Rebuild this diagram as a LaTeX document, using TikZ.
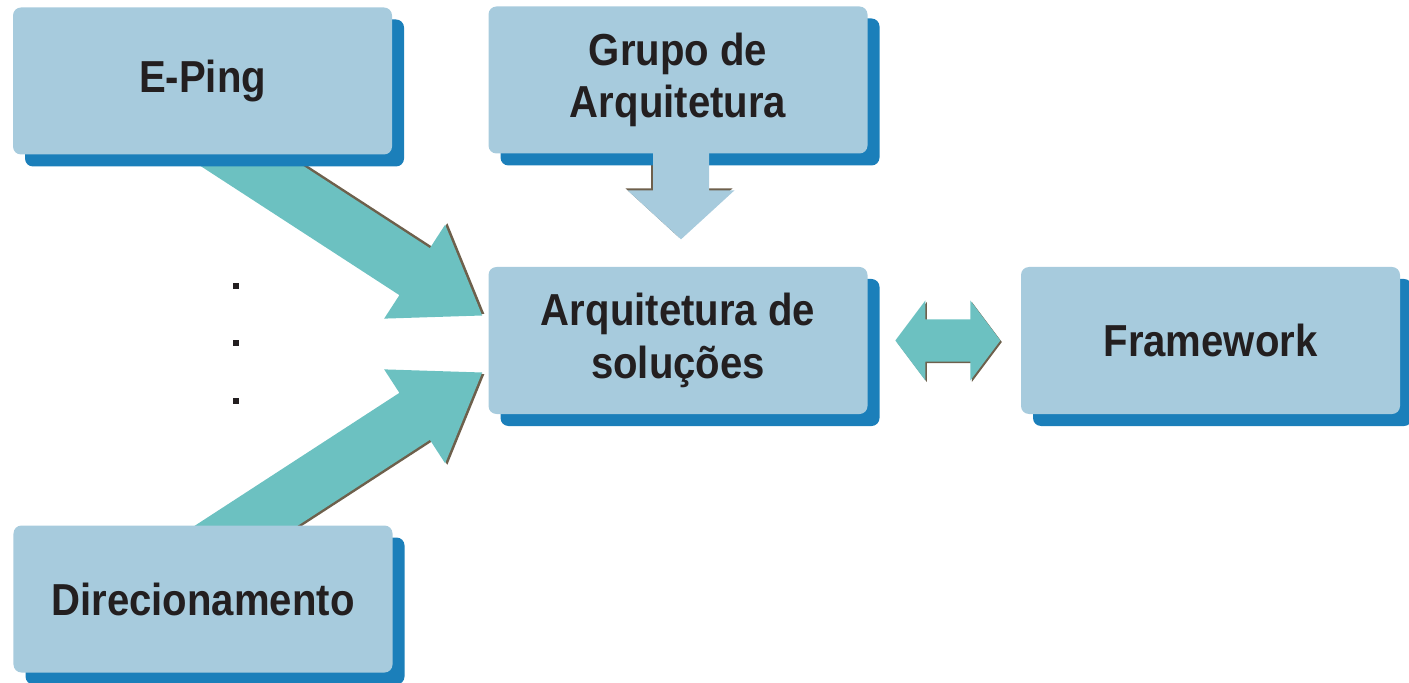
\documentclass[tikz,border=0pt]{standalone}
\usepackage{fontspec}
\newfontfamily\boxfont{Liberation Sans}[FakeStretch=0.895]
\usetikzlibrary{calc,shadows}
\definecolor{boxfill}{HTML}{A7CBDD}
\definecolor{shadowblue}{HTML}{1B7FBA}
\definecolor{flowteal}{HTML}{6CC1C1}
\definecolor{edgebrown}{HTML}{6E604C}
\definecolor{inktext}{HTML}{231F20}
\pgfdeclarelayer{background}
\pgfsetlayers{background,main}

\begin{document}
\begin{tikzpicture}[
  panel/.style={fill=boxfill, rounded corners=0.16cm, minimum width=7.58cm, minimum height=2.94cm,
    align=center, text=inktext, font=\boxfont\bfseries\fontsize{25.5}{30}\selectfont,
    general shadow={fill=shadowblue, shadow xshift=0.24cm, shadow yshift=-0.24cm}}]
\useasboundingbox (0,0) rectangle (28.18,-13.66);

\node[panel] (eping) at (4.05,-1.62) {E-Ping};
\node[panel] (grupo) at (13.56,-1.60) {Grupo de\\Arquitetura};
\node[panel] (arq) at (13.56,-6.81) {Arquitetura de\\soluções};
\node[panel] (frame) at (24.21,-6.81) {Framework};
\node[panel] (dir) at (4.06,-11.98) {Direcionamento};

\coordinate (downtip) at ($(grupo.south)+(0.06,-1.71)$);
\coordinate (lefttip) at ($(arq.east)+(0.55,0)$);

\begin{pgfonlayer}{background}
\foreach \dy/\flip in {0.5/1,-0.64/-1}{
  \begin{scope}[shift={($(arq.west)+(-0.12,\dy)$)}, rotate=-33*\flip, yscale=\flip]
  \foreach \sx/\sy/\col in {0.02/0.05/edgebrown,0/0/flowteal}{
    \fill[\col, shift={(\sx,\sy)}] (0,0) -- (-1.61,1.12) -- (-1.61,0.56) -- (-6.5,0.56)
      -- (-6.5,-0.56) -- (-1.61,-0.56) -- (-1.61,-1.12) -- cycle;
  }
  \end{scope}
}
\begin{scope}[shift={(downtip)}]
  \fill[edgebrown, shift={(-0.04,0.04)}] (0,0) -- (-1.07,0.98) -- (-0.56,0.98) -- (-0.56,1.78)
    -- (0.56,1.78) -- (0.56,0.98) -- (1.07,0.98) -- cycle;
\end{scope}
\end{pgfonlayer}

\begin{scope}[shift={(downtip)}]
  \fill[boxfill] (0,0) -- (-1.07,0.98) -- (-0.56,0.98) -- (-0.56,1.78)
    -- (0.56,1.78) -- (0.56,0.98) -- (1.07,0.98) -- cycle;
\end{scope}

\begin{scope}[shift={(lefttip)}]
\foreach \sx/\sy/\col in {0.03/-0.03/edgebrown,0/0/flowteal}{
  \fill[\col, shift={(\sx,\sy)}] (0,0) -- (0.6,0.8) -- (0.6,0.42) -- (1.5,0.42) -- (1.5,0.8)
    -- (2.1,0) -- (1.5,-0.8) -- (1.5,-0.42) -- (0.6,-0.42) -- (0.6,-0.8) -- cycle;
}
\end{scope}

\foreach \y in {-5.72,-6.86,-8.02}{\fill[inktext] (4.655,\y-0.065) rectangle ++(0.13,0.13);}
\end{tikzpicture}
\end{document}
